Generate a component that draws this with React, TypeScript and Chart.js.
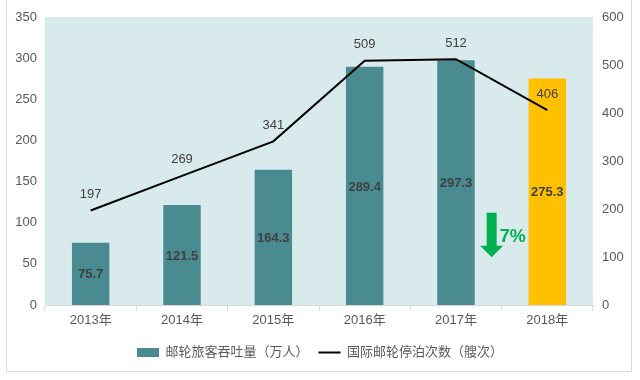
import React, { useEffect, useRef } from 'react';
import { Chart, registerables } from 'chart.js';

Chart.register(...registerables);

const categories = ['2013年', '2014年', '2015年', '2016年', '2017年', '2018年'];
const passengerValues = [75.7, 121.5, 164.3, 289.4, 297.3, 275.3];
const callValues = [197, 269, 341, 509, 512, 406];
const passengerLabel = '邮轮旅客吞吐量（万人）';
const callLabel = '国际邮轮停泊次数（艘次）';
const leftAxis = { min: 0, max: 350, step: 50 };
const rightAxis = { min: 0, max: 600, step: 100 };
const declineText = '7%';

const TEAL = '#4A8B91';
const GOLD = '#FFC000';
const PLOT_BG = '#D9EAEC';
const GREEN = '#00B050';
const FONT = '"Liberation Sans", Arial, "Noto Sans CJK SC", sans-serif';
const CJK_FONT = '"Liberation Sans", "Noto Sans CJK SC", sans-serif';

const barColors = passengerValues.map((_, i) => (i === passengerValues.length - 1 ? GOLD : TEAL));

const decorPlugin = {
  id: 'decor',
  beforeDatasetsDraw(chart: any) {
    const { ctx, chartArea } = chart;
    ctx.save();
    ctx.fillStyle = PLOT_BG;
    ctx.fillRect(chartArea.left, chartArea.top, chartArea.right - chartArea.left, chartArea.bottom - chartArea.top);
    ctx.restore();
  },
  afterDatasetsDraw(chart: any) {
    const { ctx } = chart;
    ctx.save();
    // bar labels
    const barMeta = chart.getDatasetMeta(0);
    ctx.font = `bold 13px ${FONT}`;
    ctx.fillStyle = '#404040';
    ctx.textAlign = 'center';
    ctx.textBaseline = 'middle';
    barMeta.data.forEach((bar: any, i: number) => {
      const y = (bar.y + bar.base) / 2;
      ctx.fillText(String(passengerValues[i]), bar.x, y + 1);
    });
    // line labels
    const lineMeta = chart.getDatasetMeta(1);
    ctx.font = `13px ${FONT}`;
    ctx.fillStyle = '#404040';
    lineMeta.data.forEach((pt: any, i: number) => {
      ctx.fillText(String(callValues[i]), pt.x, pt.y - 16);
    });
    // decline arrow
    const xs = chart.scales.x;
    const ys = chart.scales.y;
    const ax = (xs.getPixelForValue(4) + xs.getPixelForValue(5)) / 2 - 10;
    const top = ys.getPixelForValue(112);
    const shaftBottom = ys.getPixelForValue(72);
    const tip = ys.getPixelForValue(58);
    ctx.fillStyle = GREEN;
    ctx.beginPath();
    ctx.moveTo(ax - 5, top);
    ctx.lineTo(ax + 5, top);
    ctx.lineTo(ax + 5, shaftBottom);
    ctx.lineTo(ax + 11.5, shaftBottom);
    ctx.lineTo(ax, tip);
    ctx.lineTo(ax - 11.5, shaftBottom);
    ctx.lineTo(ax - 5, shaftBottom);
    ctx.closePath();
    ctx.fill();
    ctx.font = `bold 18px ${FONT}`;
    ctx.textAlign = 'left';
    ctx.fillText(declineText, ax + 8, ys.getPixelForValue(83));
    ctx.restore();
  },
};

export default function App() {
  const ref = useRef<HTMLCanvasElement | null>(null);
  useEffect(() => {
    if (!ref.current) return;
    const chart = new Chart(ref.current, {
      type: 'bar',
      data: {
        labels: categories,
        datasets: [
          {
            type: 'bar',
            label: passengerLabel,
            data: passengerValues,
            backgroundColor: barColors,
            yAxisID: 'y',
            categoryPercentage: 1,
            barPercentage: 0.41,
            order: 1,
          },
          {
            type: 'line',
            label: callLabel,
            data: callValues,
            borderColor: '#000000',
            backgroundColor: '#000000',
            borderWidth: 2,
            pointRadius: 0,
            tension: 0,
            yAxisID: 'y1',
            order: 0,
          } as any,
        ],
      },
      options: {
        animation: false,
        responsive: false,
        maintainAspectRatio: false,
        layout: { padding: { left: 0, right: 0, top: 17, bottom: 11 } },
        plugins: {
          tooltip: { enabled: false },
          legend: {
            position: 'bottom',
            labels: {
              usePointStyle: true,
              pointStyleWidth: 22,
              boxHeight: 9,
              padding: 10,
              color: '#595959',
              font: { size: 13, family: CJK_FONT },
              generateLabels: () => [
                {
                  text: passengerLabel,
                  fillStyle: TEAL,
                  strokeStyle: TEAL,
                  lineWidth: 0,
                  pointStyle: 'rect',
                  datasetIndex: 0,
                  hidden: false,
                  fontColor: '#595959',
                },
                {
                  text: callLabel,
                  fillStyle: '#000000',
                  strokeStyle: '#000000',
                  lineWidth: 2,
                  pointStyle: 'line',
                  datasetIndex: 1,
                  hidden: false,
                  fontColor: '#595959',
                },
              ] as any,
            },
          },
        },
        scales: {
          x: {
            offset: true,
            grid: { offset: true, drawOnChartArea: false, drawTicks: true, tickLength: 6, color: '#D9D9D9' },
            border: { display: true, color: '#D9D9D9' },
            ticks: { color: '#595959', font: { size: 13, family: CJK_FONT }, padding: 2 },
            afterFit: (s: any) => { s.height = 31; },
          },
          y: {
            position: 'left',
            min: leftAxis.min,
            max: leftAxis.max,
            grid: { display: false, drawTicks: false },
            border: { display: false },
            ticks: { stepSize: leftAxis.step, color: '#595959', font: { size: 13, family: FONT }, padding: 8 },
            afterFit: (s: any) => { s.width = 45; },
          },
          y1: {
            position: 'right',
            min: rightAxis.min,
            max: rightAxis.max,
            grid: { display: false, drawTicks: false },
            border: { display: false },
            ticks: { stepSize: rightAxis.step, color: '#595959', font: { size: 13, family: FONT }, padding: 9 },
            afterFit: (s: any) => { s.width = 47; },
          },
        },
      } as any,
      plugins: [decorPlugin],
    });
    return () => chart.destroy();
  }, []);

  return (
    <div style={{ position: 'absolute', left: 0, top: 0, width: 640, height: 380, background: '#fff' }}>
      <div
        style={{
          position: 'absolute',
          left: 6,
          top: -2,
          width: 626,
          height: 374,
          border: '1px solid #D9D9D9',
          boxSizing: 'border-box',
        }}
      />
      <canvas ref={ref} width={640} height={380} style={{ position: 'absolute', left: 0, top: 0 }} />
    </div>
  );
}
